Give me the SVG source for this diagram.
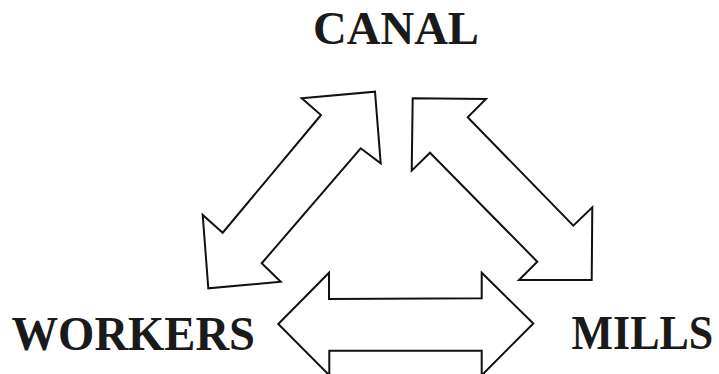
<svg xmlns="http://www.w3.org/2000/svg" width="719" height="374" viewBox="0 0 719 374">
<style>
.lbl{font-family:"Liberation Serif","Times New Roman",serif;font-weight:bold;fill:#1a1a1a}
.arr{fill:#fff;stroke:#111;stroke-width:2;stroke-linejoin:miter}
</style>
<rect width="719" height="374" fill="#fff"/>
<g id="canal"><text class="lbl" x="313" y="43.5" font-size="47" textLength="166" lengthAdjust="spacingAndGlyphs">CANAL</text></g>
<g id="workers"><text class="lbl" x="11.5" y="349.5" font-size="48" textLength="243.5" lengthAdjust="spacingAndGlyphs">WORKERS</text></g>
<g id="mills"><text class="lbl" transform="translate(571.5,348.5) scale(1,1.12)" x="0" y="0" font-size="44">MILLS</text></g>
<g id="connectors">
<polygon class="arr" points="301.7,98.3 375,91.7 380.7,163.3 360.7,148.3 261.7,263.3 280.7,281.7 208.3,288.3 202.7,215 222.7,232.7 321,115"/>
<polygon class="arr" points="412.7,98.3 486,99 467.7,117.3 573.3,225.7 592.3,207.3 591.7,280 519,280 537.3,261.7 430,152.7 411.7,170.7"/>
<polygon class="arr" points="278.3,324 329,272.7 329,299 481.7,298.3 481.7,272.7 533.3,323.5 481.7,375.3 481.7,350.7 329.3,350.7 329.3,375.3"/>
</g>
</svg>
